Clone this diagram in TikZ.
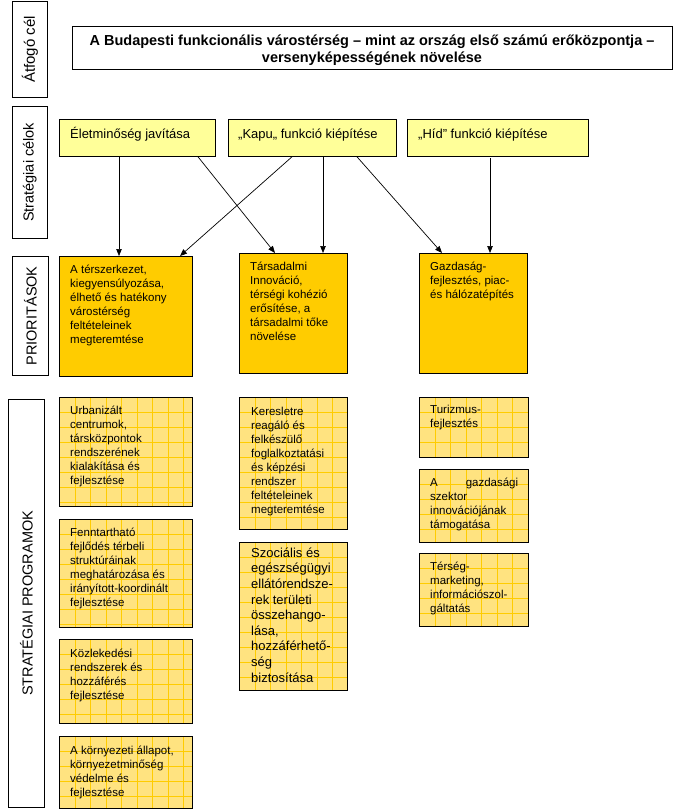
\documentclass[tikz,border=0pt]{standalone}
\usepackage{fontspec}
\setmainfont{Liberation Sans}
\usetikzlibrary{arrows.meta}
\definecolor{goalc}{HTML}{FFFF99}
\definecolor{prioc}{HTML}{FFCC00}
\definecolor{progc}{HTML}{FFE380}
\definecolor{gridc}{HTML}{FFCC00}
\newcommand{\fsz}[2]{\fontsize{#1}{#2}\selectfont}
\newcommand{\strt}[1]{\rule{0pt}{#1}}
\begin{document}
\begin{tikzpicture}[x=1pt,y=-1pt,
 box/.style={draw=black, line width=0.8pt, inner sep=0, anchor=north west},
 lbl/.style={box, fill=white},
 lbltext/.style={rotate=90, inner sep=0, font=\fsz{14.5}{17}},
 goal/.style={box, fill=goalc},
 prio/.style={box, fill=prioc},
 prog/.style={box, fill=progc, path picture={
   \foreach \i in {1,...,12} {
     \draw[gridc, line width=0.6pt] ([xshift=\i*15.5pt]path picture bounding box.north west) -- ([xshift=\i*15.5pt]path picture bounding box.south west);
   }
   \foreach \j in {1,...,14} {
     \draw[gridc, line width=0.6pt] ([yshift=-\j*15pt]path picture bounding box.north west) -- ([yshift=-\j*15pt]path picture bounding box.north east);
   }
 }},
 txt/.style={anchor=north west, inner sep=0, align=left, font=\fsz{11.5}{14}},
 conn/.style={-{Triangle[length=7pt,width=5.5pt]}, line width=0.7pt},
]
\useasboundingbox (0,0) rectangle (684,811);
\fill[white] (0,0) rectangle (684,811);

% left labels
\node[lbl, minimum width=35pt, minimum height=96pt] (a1) at (12,1) {};
\node[lbltext, font=\fsz{15}{17}] (a1t) at (a1.center) {Átfogó cél};
\node[lbl, minimum width=35pt, minimum height=132pt] (a2) at (12,106) {};
\node[lbltext] (a2t) at (a2.center) {Stratégiai célok};
\node[lbl, minimum width=36pt, minimum height=119pt] (a3) at (12,256) {};
\node[lbltext] (a3t) at (a3.center) {PRIORITÁSOK};
\node[lbl, minimum width=36pt, minimum height=408pt] (a4) at (8,399) {};
\node[lbltext] (a4t) at (a4.center) {STRATÉGIAI PROGRAMOK};

% top box
\node[lbl, minimum width=600pt, minimum height=43pt] (top) at (72,26) {};
\node[anchor=north, inner sep=0, align=center, font=\bfseries\fsz{14.5}{17}] (topt) at (372,30.5)
 {\strt{14.5pt}A Budapesti funkcionális várostérség – mint az ország első számú erőközpontja –\\versenyképességének növelése};

% goals
\node[goal, minimum width=156pt, minimum height=37pt] (el) at (59,119) {};
\node[txt, font=\fsz{13}{15}] (elt) at (70,125) {\strt{13pt}Életminőség javítása};
\node[goal, minimum width=168pt, minimum height=37pt] (kapu) at (227.5,119) {};
\node[txt, font=\fsz{13}{15}] (kaput) at (238,125) {\strt{13pt}„Kapu„ funkció kiépítése};
\node[goal, minimum width=181pt, minimum height=37pt] (hid) at (407,119) {};
\node[txt, font=\fsz{13}{15}] (hidt) at (418,125) {\strt{13pt}„Híd” funkció kiépítése};

% priorities
\node[prio, minimum width=133pt, minimum height=120pt] (p1) at (59,256) {};
\node[txt] (p1t) at (70,261.5) {\strt{11.5pt}A térszerkezet,\\kiegyensúlyozása,\\élhető és hatékony\\várostérség\\feltételeinek\\megteremtése};
\node[prio, minimum width=108pt, minimum height=120pt] (p2) at (239,253) {};
\node[txt] (p2t) at (250,258.5) {\strt{11.5pt}Társadalmi\\Innováció,\\térségi kohézió\\erősítése, a\\társadalmi tőke\\növelése};
\node[prio, minimum width=108pt, minimum height=120pt] (p3) at (419,253) {};
\node[txt] (p3t) at (430,258.5) {\strt{11.5pt}Gazdaság-\\fejlesztés, piac-\\és hálózatépítés};

% programs column 1
\node[prog, minimum width=133pt, minimum height=109pt] (c1a) at (59,397) {};
\node[txt] (c1at) at (70,402.5) {\strt{11.5pt}Urbanizált\\centrumok,\\társközpontok\\rendszerének\\kialakítása és\\fejlesztése};
\node[prog, minimum width=133pt, minimum height=108pt] (c1b) at (59,519) {};
\node[txt] (c1bt) at (70,524.5) {\strt{11.5pt}Fenntartható\\fejlődés térbeli\\struktúráinak\\meghatározása és\\irányított-koordinált\\fejlesztése};
\node[prog, minimum width=133pt, minimum height=84pt] (c1c) at (59,639) {};
\node[txt] (c1ct) at (70,645.5) {\strt{11.5pt}Közlekedési\\rendszerek és\\hozzáférés\\fejlesztése};
\node[prog, minimum width=133pt, minimum height=72pt] (c1d) at (59,736) {};
\node[txt] (c1dt) at (70,742.5) {\strt{11.5pt}A környezeti állapot,\\környezetminőség\\védelme és\\fejlesztése};

% programs column 2
\node[prog, minimum width=108pt, minimum height=132pt] (c2a) at (239,397) {};
\node[txt] (c2at) at (251,403.5) {\strt{11.5pt}Keresletre\\reagáló és\\felkészülő\\foglalkoztatási\\és képzési\\rendszer\\feltételeinek\\megteremtése};
\node[prog, minimum width=108pt, minimum height=148pt] (c2b) at (239,542) {};
\node[txt, font=\fsz{13}{15.6}] (c2bt) at (251,544) {\strt{13pt}Szociális és\\egészségügyi\\ellátórendsze-\\rek területi\\összehango-\\lása,\\hozzáférhető-\\ség\\biztosítása};

% programs column 3
\node[prog, minimum width=109pt, minimum height=60pt] (c3a) at (419,397) {};
\node[txt] (c3at) at (430,401.5) {\strt{11.5pt}Turizmus-\\fejlesztés};
\node[prog, minimum width=109pt, minimum height=73pt] (c3b) at (419,469) {};
\node[txt] (c3bt) at (430,474.5) {\strt{11.5pt}\hbox to 88pt{A\hfill gazdasági}\\szektor\\innovációjának\\támogatása};
\node[prog, minimum width=109pt, minimum height=73pt] (c3c) at (419,553) {};
\node[txt] (c3ct) at (430,558.5) {\strt{11.5pt}Térség-\\marketing,\\információszol-\\gáltatás};

% connectors
\draw[conn] ([xshift=60pt]el.south west) -- ([xshift=60pt]p1.north west);
\draw[conn] ([xshift=139pt]el.south west) -- ([xshift=36pt]p2.north west);
\draw[conn] ([xshift=64.5pt]kapu.south west) -- ([xshift=121pt]p1.north west);
\draw[conn] ([xshift=95.5pt]kapu.south west) -- ([xshift=84pt]p2.north west);
\draw[conn] ([xshift=129.5pt]kapu.south west) -- ([xshift=23pt]p3.north west);
\draw[conn] ([xshift=83pt,yshift=-1.5pt]hid.south west) -- ([xshift=71pt]p3.north west);
\end{tikzpicture}
\end{document}
